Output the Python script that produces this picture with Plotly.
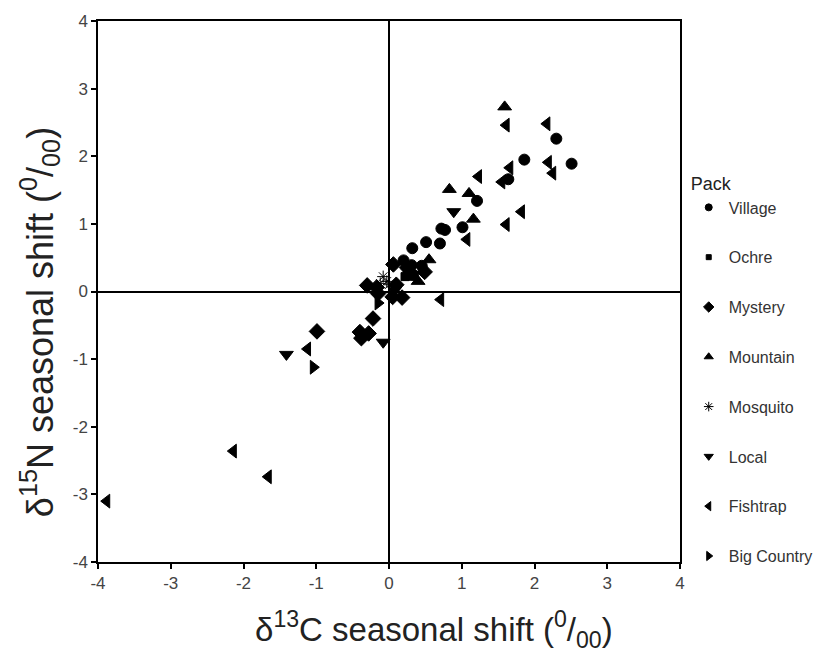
import plotly.graph_objects as go

packs = ["Village", "Ochre", "Mystery", "Mountain", "Mosquito", "Local", "Fishtrap", "Big Country"]

village_x = [2.30, 1.86, 2.51, 1.64, 1.21, 0.77, 0.72, 1.01, 0.51, 0.70, 0.32, 0.20, 0.31, 0.27, 0.33, 0.45]
village_y = [2.26, 1.95, 1.89, 1.66, 1.34, 0.91, 0.93, 0.95, 0.73, 0.71, 0.64, 0.46, 0.39, 0.30, 0.25, 0.38]

ochre_x = [0.30, 0.22]
ochre_y = [0.33, 0.22]

mystery_x = [0.06, 0.49, 0.10, 0.05, 0.18, -0.30, -0.15, -0.22, -0.40, -0.28, -0.38, -0.99, 0.25, -0.17]
mystery_y = [0.40, 0.29, 0.10, -0.08, -0.09, 0.09, -0.03, -0.40, -0.60, -0.62, -0.69, -0.59, 0.35, 0.06]

mountain_x = [1.59, 0.83, 1.10, 1.16, 0.55, 0.40, 0.29]
mountain_y = [2.73, 1.51, 1.45, 1.07, 0.47, 0.15, 0.21]

mosquito_x = [-0.08, -0.03, 0.00, -0.12]
mosquito_y = [0.22, 0.15, 0.10, 0.12]

local_x = [0.89, -0.08, -1.41, 0.08]
local_y = [1.18, -0.75, -0.93, 0.02]

fishtrap_x = [1.61, 2.17, 2.19, 2.25, 1.66, 1.23, 1.55, 1.82, 1.61, 1.07, 0.71, -1.12, -2.14, -1.66, -3.88, 0.30]
fishtrap_y = [2.46, 2.48, 1.91, 1.75, 1.83, 1.70, 1.62, 1.18, 0.99, 0.77, -0.12, -0.85, -2.36, -2.74, -3.10, 0.35]

bigcountry_x = [-1.04, -0.15]
bigcountry_y = [-1.12, -0.17]

tick_vals = [-4, -3, -2, -1, 0, 1, 2, 3, 4]
tick_text = ["-4", "-3", "-2", "-1", "0", "1", "2", "3", "4"]

series = [
    ("Village", village_x, village_y, "circle", 11, 7),
    ("Ochre", ochre_x, ochre_y, "square", 8, 5),
    ("Mystery", mystery_x, mystery_y, "diamond", 12, 8),
    ("Mountain", mountain_x, mountain_y, "triangle-up", 12, 8),
    ("Mosquito", mosquito_x, mosquito_y, "asterisk-open", 10, 8),
    ("Local", local_x, local_y, "triangle-down", 12, 8),
    ("Fishtrap", fishtrap_x, fishtrap_y, "triangle-left", 12, 8),
    ("Big Country", bigcountry_x, bigcountry_y, "triangle-right", 12, 8),
]

fig = go.Figure()
for name, xs, ys, sym, sz, lsz in series:
    fig.add_trace(go.Scatter(
        x=xs, y=ys, mode="markers", name=name, legendgroup=name, showlegend=False,
        marker=dict(symbol=sym, size=sz, color="black",
                    line=dict(color="black", width=1)),
    ))
for name, xs, ys, sym, sz, lsz in series:
    fig.add_trace(go.Scatter(
        x=[None], y=[None], mode="markers", name=name, legendgroup=name, showlegend=True,
        marker=dict(symbol=sym, size=lsz, color="black",
                    line=dict(color="black", width=1)),
    ))

axis_common = dict(
    range=[-4, 4], tickmode="array", tickvals=tick_vals, ticktext=tick_text,
    showgrid=False,
    showline=True, linecolor="black", linewidth=1.5, mirror=True,
    ticks="outside", ticklen=5, tickwidth=2, tickcolor="black",
    zeroline=True, zerolinecolor="black", zerolinewidth=1.5,
    tickfont=dict(family="Liberation Sans, Arial", size=17, color="#444"),
)

title_font = dict(family="Liberation Sans, Arial", size=33, color="#222")

fig.update_layout(
    width=834, height=658,
    margin=dict(l=98, r=154, t=16, b=96),
    paper_bgcolor="white", plot_bgcolor="white",
    xaxis=dict(**axis_common),
    yaxis=dict(**axis_common),
    legend=dict(
        title=dict(text="Pack", font=dict(family="Liberation Sans, Arial", size=18, color="#222")),
        font=dict(family="Liberation Sans, Arial", size=16, color="#333"),
        x=1.015, xanchor="left", y=0.73, yanchor="top",
        tracegroupgap=26, itemsizing="trace", bgcolor="rgba(0,0,0,0)",
    ),
    showlegend=True,
    annotations=[
        dict(text="δ<sup>13</sup>C seasonal shift (<sup>0</sup>/<sub>00</sub>)",
             xref="paper", yref="paper", x=0.577, y=-0.1245,
             xanchor="center", yanchor="middle", showarrow=False, font=title_font),
        dict(text="δ<sup>15</sup>N seasonal shift (<sup>0</sup>/<sub>00</sub>)",
             xref="paper", yref="paper", x=-0.10, y=0.443, textangle=-90,
             xanchor="center", yanchor="middle", showarrow=False,
             font=dict(family="Liberation Sans, Arial", size=36, color="#222")),
    ],
)

fig.write_html("out.html")
